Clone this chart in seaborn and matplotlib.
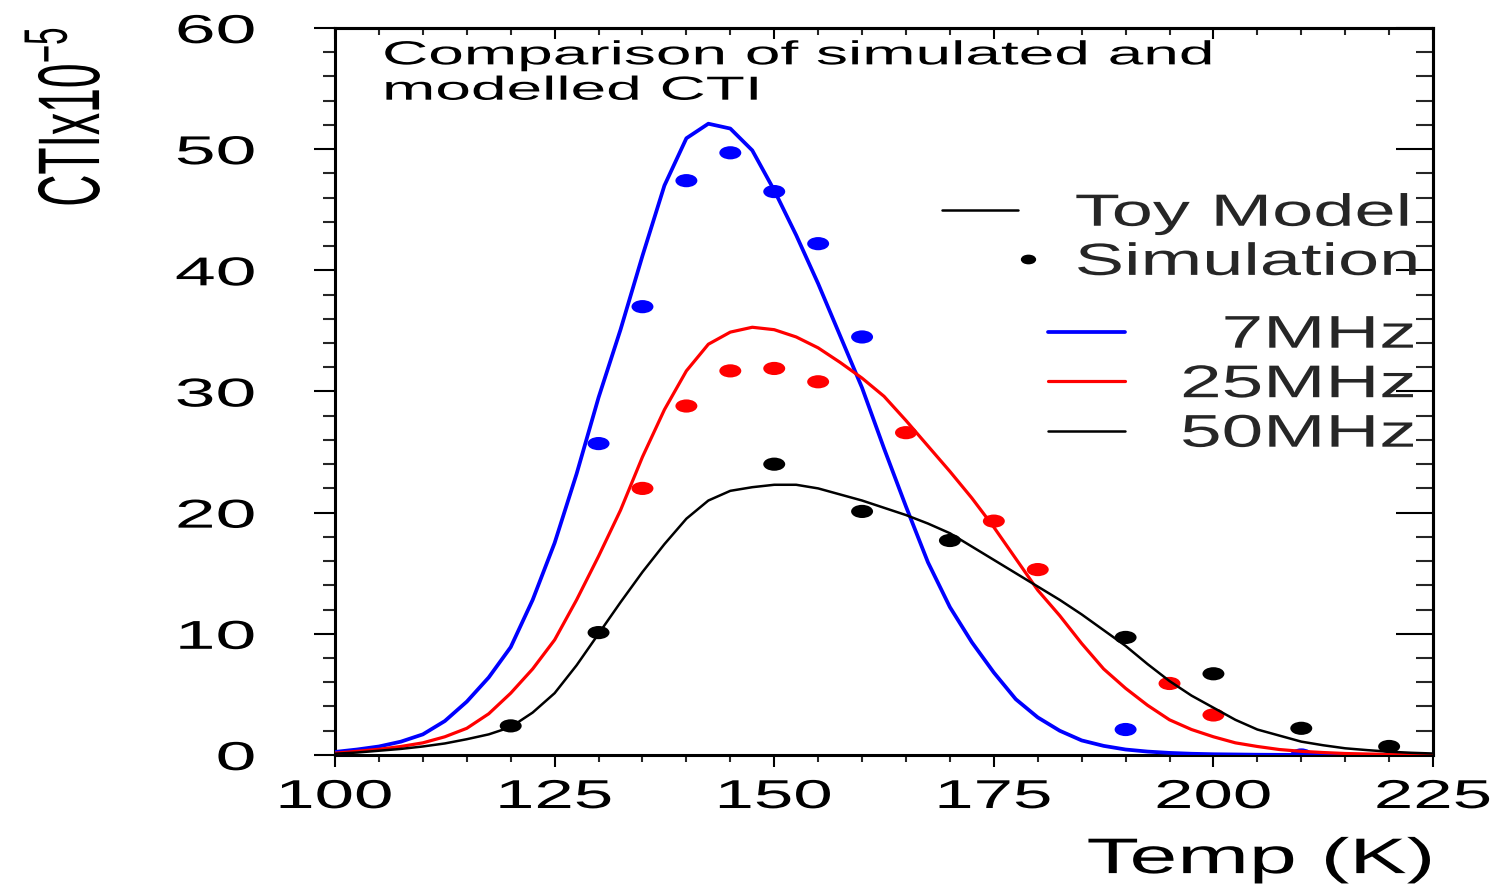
import matplotlib
matplotlib.use("Agg")
import numpy as np
import pandas as pd
import matplotlib.pyplot as plt
import seaborn as sns
import matplotlib.patheffects as pe
from matplotlib.path import Path
from matplotlib.markers import MarkerStyle
from matplotlib.transforms import Affine2D
from matplotlib.lines import Line2D
from matplotlib.legend_handler import HandlerLine2D
from matplotlib.ticker import MultipleLocator

# ---------------- data ----------------
temp_model = [100, 102.5, 105, 107.5, 110, 112.5, 115, 117.5, 120, 122.5,
              125, 127.5, 130, 132.5, 135, 137.5, 140, 142.5, 145, 147.5,
              150, 152.5, 155, 157.5, 160, 162.5, 165, 167.5, 170, 172.5,
              175, 177.5, 180, 182.5, 185, 187.5, 190, 192.5, 195, 197.5,
              200, 202.5, 205, 207.5, 210, 212.5, 215, 217.5, 220, 222.5, 225]

model_7mhz = [0.25, 0.45, 0.7, 1.1, 1.7, 2.8, 4.4, 6.4, 8.9, 12.8,
              17.5, 23.2, 29.5, 35.1, 41.2, 47.0, 50.9, 52.1, 51.7, 49.9,
              46.6, 42.9, 38.9, 34.6, 30.3, 25.3, 20.5, 15.9, 12.2, 9.3,
              6.8, 4.6, 3.1, 2.0, 1.2, 0.75, 0.45, 0.28, 0.17, 0.1,
              0.06, 0.04, 0.02, 0.01, 0.01, 0.0, 0.0, 0.0, 0.0, 0.0, 0.0]

model_25mhz = [0.15, 0.3, 0.47, 0.7, 1.0, 1.5, 2.2, 3.4, 5.1, 7.1,
               9.5, 12.8, 16.4, 20.2, 24.6, 28.5, 31.7, 33.9, 34.9, 35.3,
               35.1, 34.5, 33.6, 32.4, 31.1, 29.6, 27.6, 25.5, 23.4, 21.2,
               18.8, 16.2, 13.6, 11.5, 9.2, 7.1, 5.5, 4.1, 2.9, 2.1,
               1.5, 1.0, 0.7, 0.45, 0.3, 0.2, 0.12, 0.08, 0.05, 0.03, 0.02]

model_50mhz = [0.1, 0.2, 0.35, 0.5, 0.7, 0.95, 1.3, 1.7, 2.3, 3.5,
               5.1, 7.4, 10.0, 12.6, 15.1, 17.4, 19.5, 21.0, 21.8, 22.1,
               22.3, 22.3, 22.0, 21.5, 21.0, 20.4, 19.8, 19.1, 18.3, 17.2,
               16.1, 15.0, 13.9, 12.8, 11.6, 10.3, 9.0, 7.5, 6.1, 4.9,
               3.9, 2.9, 2.1, 1.6, 1.1, 0.8, 0.55, 0.4, 0.27, 0.18, 0.12]

sim_temp_7mhz = [130, 135, 140, 145, 150, 155, 160, 190, 210]
sim_cti_7mhz = [25.7, 37.0, 47.4, 49.7, 46.5, 42.2, 34.5, 2.1, 0.0]

sim_temp_25mhz = [135, 140, 145, 150, 155, 165, 175, 180, 195, 200]
sim_cti_25mhz = [22.0, 28.8, 31.7, 31.9, 30.8, 26.6, 19.3, 15.3, 5.9, 3.3]

sim_temp_50mhz = [120, 130, 150, 160, 170, 190, 200, 210, 220]
sim_cti_50mhz = [2.4, 10.1, 24.0, 20.1, 17.7, 9.7, 6.7, 2.2, 0.7]

freq_labels = ["7MHz", "25MHz", "50MHz"]
freq_colors = ["#0000ff", "#ff0000", "#000000"]
x_ticks = [100, 125, 150, 175, 200, 225]
y_ticks = [0, 10, 20, 30, 40, 50, 60]
title_text = "Comparison of simulated and\nmodelled CTI"
x_label = "Temp (K)"
y_label = "CTIx10$^{-5}$"


# ---------------- helpers ----------------
class Stretch(pe.AbstractPathEffect):
    """Widen/condense text glyphs (ROOT-like stretched font)."""

    def __init__(self, sx=1.0, anchor="center", sy=1.0):
        super().__init__()
        self.sx = sx
        self.sy = sy
        self.anchor = anchor

    def draw_path(self, renderer, gc, tpath, affine, rgbFace=None):
        ext = tpath.get_extents()
        if self.anchor == "left":
            cx = 0.0
        elif self.anchor == "right":
            cx = ext.x1
        else:
            cx = 0.5 * (ext.x0 + ext.x1)
        cy = 0.5 * (ext.y0 + ext.y1)
        tr = (Affine2D().translate(-cx, -cy).scale(self.sx, self.sy)
              .translate(cx, cy) + affine)
        renderer.draw_path(gc, tpath, tr, rgbFace)


class RightMarkerHandler(HandlerLine2D):
    """Legend marker placed to the right of the handle box (ROOT-like)."""

    def __init__(self, frac=1.13, **kw):
        super().__init__(**kw)
        self.frac = frac

    def create_artists(self, legend, orig_handle, xdescent, ydescent, width,
                       height, fontsize, trans):
        arts = super().create_artists(legend, orig_handle, xdescent, ydescent,
                                      width, height, fontsize, trans)
        for a in arts:
            a.set_xdata([width * self.frac - xdescent])
        return arts


sns.set_theme(style="ticks")
plt.rcParams["font.family"] = ["Liberation Sans", "DejaVu Sans"]
plt.rcParams["mathtext.default"] = "regular"
plt.rcParams["axes.linewidth"] = 2.2

fig = plt.figure(figsize=(14.99, 8.86), dpi=100, facecolor="white")
ax = fig.add_axes([0.2235, 0.1479, 0.7325, 0.8205])
ax.set_facecolor("white")

ellipse = MarkerStyle(Path.unit_circle().transformed(Affine2D().scale(1.0, 0.6)))

model_series = [model_7mhz, model_25mhz, model_50mhz]
sim_series = [(sim_temp_7mhz, sim_cti_7mhz), (sim_temp_25mhz, sim_cti_25mhz),
              (sim_temp_50mhz, sim_cti_50mhz)]
line_widths = [2.7, 2.3, 1.8]

for i, (lab, col) in enumerate(zip(freq_labels, freq_colors)):
    dfm = pd.DataFrame({"T": temp_model, "CTI": model_series[i]})
    dfs = pd.DataFrame({"T": sim_series[i][0], "CTI": sim_series[i][1]})
    sns.lineplot(data=dfm, x="T", y="CTI", color=col, linewidth=line_widths[i],
                 estimator=None, sort=False, legend=False, ax=ax, zorder=3 + 2 * i)
    sns.scatterplot(data=dfs, x="T", y="CTI", color=col, marker=ellipse, s=250,
                    linewidth=0, edgecolor="none", legend=False, ax=ax,
                    zorder=4 + 2 * i)

ax.set_xlim(100, 225)
ax.set_ylim(0, 60)
ax.set_xticks(x_ticks)
ax.set_yticks(y_ticks)
ax.xaxis.set_minor_locator(MultipleLocator(5))
ax.yaxis.set_minor_locator(MultipleLocator(2))
ax.tick_params(axis="x", which="major", direction="out", length=8.6, width=1.5,
               pad=8, labelsize=29, colors="black", top=False)
ax.tick_params(axis="x", which="minor", direction="out", length=5, width=1.5, top=False)
ax.tick_params(axis="y", which="major", direction="out", length=15, width=1.5,
               pad=42.5, labelsize=29, colors="black", right=False)
ax.tick_params(axis="y", which="minor", direction="out", length=8.6, width=1.5, right=False)
for sp in ax.spines.values():
    sp.set_color("black")
    sp.set_linewidth(2.2)

sec_y = ax.secondary_yaxis("right")
sec_y.set_yticks(y_ticks)
sec_y.yaxis.set_minor_locator(MultipleLocator(2))
sec_y.tick_params(axis="y", which="major", direction="in", length=26.6, width=1.5,
                  labelright=False, colors="black")
sec_y.tick_params(axis="y", which="minor", direction="in", length=12, width=1.5)
sec_y.spines["right"].set_linewidth(2.2)

sec_x = ax.secondary_xaxis("top")
sec_x.set_xticks(x_ticks)
sec_x.xaxis.set_minor_locator(MultipleLocator(5))
sec_x.tick_params(axis="x", which="major", direction="in", length=8, width=1.5,
                  labeltop=False, colors="black")
sec_x.tick_params(axis="x", which="minor", direction="in", length=5, width=1.5)
sec_x.spines["top"].set_linewidth(2.2)

ax.set_xlabel(x_label, fontsize=36, loc="right", color="black")
ax.xaxis.set_label_coords(1.0, -0.113)
ax.xaxis.label.set_verticalalignment("top")
ax.xaxis.label.set_path_effects([Stretch(1.72, "right")])

ax.set_ylabel(y_label, fontsize=32, color="black", va="center", ha="center")
ax.yaxis.set_label_coords(-0.2425, 0.878)
ax.yaxis.label.set_path_effects([Stretch(1.0, "center", sy=1.97)])

title = ax.text(0.0428, 0.983, title_text, transform=ax.transAxes, ha="left",
                va="top", fontsize=24, linespacing=1.18, color="black")
title.set_path_effects([Stretch(1.92, "left")])

# legends
toy_handle = Line2D([], [], color="black", linewidth=1.8)
sim_handle = Line2D([], [], color="black", linestyle="none", marker=ellipse,
                    markersize=10)
leg1 = ax.legend(
    handles=[toy_handle, sim_handle],
    labels=["Toy Model", "Simulation"],
    handler_map={sim_handle: RightMarkerHandler(frac=1.13)},
    loc="upper left", bbox_to_anchor=(0.5528, 0.772), frameon=False,
    fontsize=32.5, handlelength=1.68, handletextpad=1.26, labelspacing=0.18,
    borderpad=0, borderaxespad=0)
for t in leg1.get_texts():
    t.set_path_effects([Stretch(1.64, "left")])
ax.add_artist(leg1)

leg2 = ax.legend(
    handles=[Line2D([], [], color=c, linewidth=w) for c, w in zip(freq_colors, line_widths)],
    labels=["  " + freq_labels[0], freq_labels[1], freq_labels[2]],
    loc="upper left", bbox_to_anchor=(0.6494, 0.607), frameon=False,
    fontsize=33, handlelength=1.68, handletextpad=1.2, labelspacing=0.12,
    borderpad=0, borderaxespad=0)
for t in leg2.get_texts():
    t.set_path_effects([Stretch(1.63, "left")])

fig.canvas.draw()
for lbl in ax.get_xticklabels():
    lbl.set_path_effects([Stretch(1.76, "center")])
for lbl in ax.get_yticklabels():
    lbl.set_path_effects([Stretch(1.82, "right")])

fig.savefig("out.png", dpi=100, facecolor="white")
